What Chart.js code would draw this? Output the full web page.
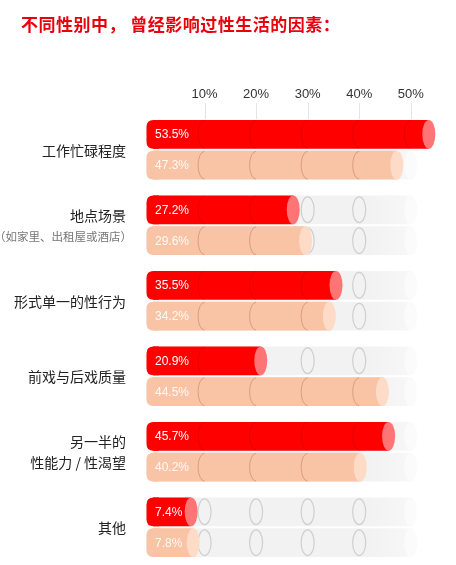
<!DOCTYPE html>
<html>
<head>
<meta charset="utf-8">
<script src="https://cdn.jsdelivr.net/npm/chart.js@4.4.1/dist/chart.umd.min.js"></script>
<style>
  html, body { margin: 0; padding: 0; background: #fff; }
  #wrap { position: relative; width: 456px; height: 565px; }
  #title {
    position: absolute; left: 21px; top: 11px;
    font: bold 17px "Noto Sans CJK SC", sans-serif;
    letter-spacing: 0.5px;
    color: #e8000b; white-space: pre;
  }
</style>
</head>
<body>
<div id="wrap">
  <div id="title">不同性别中， 曾经影响过性生活的因素：</div>
  <canvas id="chart"></canvas>
</div>
<script>
// data
const categories = [
  ['工作忙碌程度'],
  ['地点场景'],
  ['形式单一的性行为'],
  ['前戏与后戏质量'],
  ['另一半的', '性能力 / 性渴望'],
  ['其他']
];
const categoryNotes = ['', '（如家里、出租屋或酒店）', '', '', '', ''];
const redSeries = [53.5, 27.2, 35.5, 20.9, 45.7, 7.4];
const peachSeries = [47.3, 29.6, 34.2, 44.5, 40.2, 7.8];
const tickValues = [10, 20, 30, 40, 50];
const trackMax = 50;

const CAP_RX = 6.5;

function roundLeft(ctx, x, y, w, h, r) {
  ctx.beginPath();
  ctx.moveTo(x + r, y);
  ctx.lineTo(x + w, y);
  ctx.lineTo(x + w, y + h);
  ctx.lineTo(x + r, y + h);
  ctx.quadraticCurveTo(x, y + h, x, y + h - r);
  ctx.lineTo(x, y + r);
  ctx.quadraticCurveTo(x, y, x + r, y);
  ctx.closePath();
}

function ellipse(ctx, cx, cy, rx, ry) {
  ctx.beginPath();
  ctx.ellipse(cx, cy, rx, ry, 0, 0, Math.PI * 2);
}

// styles per dataset
const looks = [
  { fill: '#ff0000', cap: '#ff7474', line: 'rgba(170,0,0,0.3)', text: '#ffffff' },
  { fill: '#f9c3a5', cap: '#fddbc7', line: 'rgba(200,130,100,0.6)', text: 'rgba(255,255,255,0.92)' }
];

const cylinders = {
  id: 'cylinders',
  beforeDatasetsDraw(chart) {
    const { ctx, scales: { x } } = chart;
    const x0 = x.getPixelForValue(0);
    const xEnd = x.getPixelForValue(trackMax);
    chart.data.datasets.forEach((ds, di) => {
      chart.getDatasetMeta(di).data.forEach((bar, i) => {
        const h = bar.height;
        const top = bar.y - h / 2;
        ctx.save();
        // grey track behind the bar
        const g = ctx.createLinearGradient(x.getPixelForValue(42), 0, xEnd + CAP_RX, 0);
        g.addColorStop(0, '#f2f2f2');
        g.addColorStop(1, '#f8f8f8');
        ctx.fillStyle = g;
        roundLeft(ctx, x0 - CAP_RX, top, xEnd - x0 + CAP_RX, h, 7);
        ctx.fill();
        ctx.fillStyle = '#fbfbfb';
        ellipse(ctx, xEnd, bar.y, CAP_RX, h / 2);
        ctx.fill();
        // rings on the empty part
        ctx.strokeStyle = '#cfcfcf';
        ctx.lineWidth = 1.2;
        tickValues.forEach(t => {
          if (t < trackMax && t > ds.data[i]) {
            ellipse(ctx, x.getPixelForValue(t), bar.y, CAP_RX, h / 2 - 1.5);
            ctx.stroke();
          }
        });
        // rounded left end of the bar
        ctx.fillStyle = looks[di].fill;
        roundLeft(ctx, x0 - CAP_RX, top, CAP_RX + 6, h, 7);
        ctx.fill();
        ctx.restore();
      });
    });
  },
  afterDatasetsDraw(chart) {
    const { ctx, scales: { x } } = chart;
    const x0 = x.getPixelForValue(0);
    chart.data.datasets.forEach((ds, di) => {
      const look = looks[di];
      chart.getDatasetMeta(di).data.forEach((bar, i) => {
        const v = ds.data[i];
        const h = bar.height;
        ctx.save();
        // segment edges inside the bar
        ctx.strokeStyle = look.line;
        ctx.lineWidth = 1;
        tickValues.forEach(t => {
          if (t < v - 1) {
            ctx.beginPath();
            ctx.ellipse(x.getPixelForValue(t), bar.y, CAP_RX, h / 2 - 0.5, 0, Math.PI / 2, Math.PI * 1.5);
            ctx.stroke();
          }
        });
        // light end cap
        ctx.fillStyle = look.cap;
        ellipse(ctx, bar.x, bar.y, CAP_RX, h / 2);
        ctx.fill();
        // value label
        ctx.fillStyle = look.text;
        ctx.font = '12px "Liberation Sans", Arial, sans-serif';
        ctx.textAlign = 'left';
        ctx.textBaseline = 'middle';
        ctx.fillText(v.toFixed(1) + '%', x0 + 2, bar.y + 0.5);
        ctx.restore();
      });
    });
  },
  afterDraw(chart) {
    const { ctx, scales: { x, y }, chartArea } = chart;
    ctx.save();
    // short tick marks under the percent labels
    ctx.strokeStyle = '#e4e4e4';
    ctx.lineWidth = 1;
    tickValues.forEach(t => {
      const px = Math.round(x.getPixelForValue(t)) + 0.5;
      ctx.beginPath();
      ctx.moveTo(px, chartArea.top - 9);
      ctx.lineTo(px, chartArea.top + 7);
      ctx.stroke();
    });
    // category labels
    ctx.textAlign = 'right';
    ctx.textBaseline = 'middle';
    categories.forEach((lines, i) => {
      const c = y.getPixelForValue(i);
      const note = categoryNotes[i];
      const total = lines.length + (note ? 1 : 0);
      let ly = c - (total - 1) * 21 / 2 + 0.5;
      ctx.fillStyle = '#222';
      ctx.font = '14px "Noto Sans CJK SC", sans-serif';
      lines.forEach(line => {
        ctx.fillText(line, 126, ly);
        ly += 21;
      });
      if (note) {
        ctx.fillStyle = '#777';
        ctx.font = '11.5px "Noto Sans CJK SC", sans-serif';
        ctx.fillText(note, 132, ly);
      }
    });
    ctx.restore();
  }
};

new Chart(document.getElementById('chart'), {
  type: 'bar',
  data: {
    labels: categories,
    datasets: [
      { label: 'series1', data: redSeries, backgroundColor: looks[0].fill },
      { label: 'series2', data: peachSeries, backgroundColor: looks[1].fill }
    ]
  },
  options: {
    indexAxis: 'y',
    responsive: true,
    maintainAspectRatio: false,
    animation: false,
    categoryPercentage: 0.82,
    barPercentage: 0.93,
    layout: { padding: { top: 72, left: 153, right: 4, bottom: 0 } },
    plugins: {
      legend: { display: false },
      tooltip: { enabled: false }
    },
    scales: {
      x: {
        position: 'top',
        min: 0,
        max: 58,
        afterBuildTicks: s => { s.ticks = tickValues.map(v => ({ value: v })); },
        afterFit: s => { s.height = 40; },
        border: { display: false },
        grid: { drawOnChartArea: false, tickLength: 10, color: 'rgba(0,0,0,0)' },
        ticks: {
          callback: v => v + '%',
          color: '#333',
          padding: 0,
          maxRotation: 0,
          font: { size: 13, family: '"Liberation Sans", Arial, sans-serif' }
        }
      },
      y: { display: false }
    }
  },
  plugins: [cylinders]
});
</script>
</body>
</html>
